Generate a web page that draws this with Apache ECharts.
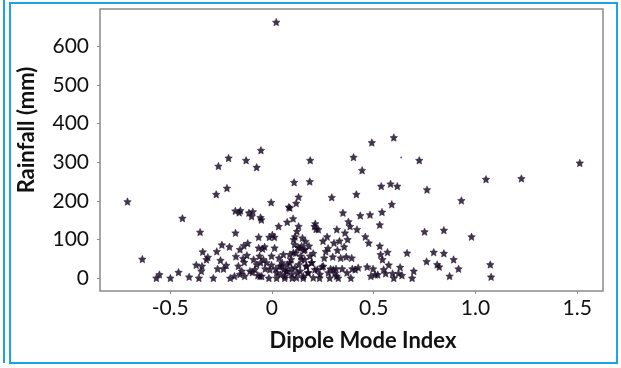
<!DOCTYPE html>
<html><head><meta charset="utf-8">
<script src="https://cdn.jsdelivr.net/npm/echarts@6/dist/echarts.min.js"></script>
<style>html,body{margin:0;padding:0;background:#fff}#c{width:621px;height:368px}</style>
</head><body><div id="c"></div>
<script>
// Dipole Mode Index (x) vs Rainfall mm (y)
const dmi = [0.021,-0.71,-0.637,-0.44,-0.568,-0.553,-0.499,-0.459,-0.407,-0.372,-0.353,-0.359,-0.347,-0.344,-0.34,-0.322,-0.315,-0.288,-0.267,-0.271,-0.274,-0.263,-0.253,-0.246,-0.238,-0.225,-0.213,-0.221,-0.209,-0.205,-0.184,-0.179,-0.177,-0.18,-0.161,-0.155,-0.165,-0.157,-0.148,-0.142,-0.138,-0.136,-0.134,-0.127,-0.123,-0.119,-0.113,-0.1,-0.094,-0.096,-0.09,-0.084,-0.075,-0.069,-0.065,-0.065,-0.061,-0.056,-0.054,-0.052,-0.056,-0.05,-0.046,-0.042,-0.036,-0.033,-0.027,-0.015,-0.013,-0.004,-0.002,0.002,0.012,0.013,0.019,0.023,0.033,0.035,0.038,0.042,0.05,0.058,0.063,0.069,0.075,0.075,0.083,0.088,0.088,0.094,0.096,0.1,0.104,0.109,0.107,0.111,0.113,0.117,0.119,0.123,0.125,0.131,0.131,0.132,0.138,0.142,0.146,0.15,0.154,0.157,0.161,0.165,0.169,0.177,0.182,0.186,0.188,0.196,0.203,0.209,0.213,0.217,0.223,0.228,0.234,0.246,0.251,0.257,0.265,0.271,0.276,0.284,0.288,0.294,0.299,0.305,0.309,0.315,0.319,0.322,0.326,0.332,0.338,0.345,0.349,0.355,0.359,0.365,0.369,0.372,0.376,0.384,0.388,0.392,0.395,0.401,0.409,0.415,0.418,0.424,0.434,0.443,0.459,0.468,0.476,0.482,0.486,0.491,0.497,0.507,0.52,0.53,0.53,0.534,0.537,0.541,0.543,0.549,0.559,0.568,0.574,0.583,0.589,0.593,0.599,0.599,0.616,0.622,0.63,0.639,0.664,0.689,0.697,0.724,0.75,0.76,0.762,0.795,0.812,0.822,0.845,0.845,0.873,0.893,0.917,0.931,0.981,1.052,1.073,1.077,1.226,1.513,
-0.01,0.023,0.048,0.064,0.075,0.088,0.097,0.113,0.121,0.138,0.146,0.154,0.17,0.178,0.195,0.203,0.211,0.236,0.252,0.277,0.301,0.318,-0.059,-0.075,-0.108,-0.157,-0.002,0.056,0.105,0.129,0.162,0.187];
const rainfall = [663,198,49,155,0,9,0,15,3,34,119,0,18,31,68,48,54,0,24,69,217,290,46,86,24,33,311,233,81,0,5,117,56,174,170,175,31,74,18,51,84,41,5,305,59,90,169,160,172,15,48,22,287,7,78,106,57,157,331,151,40,5,76,48,81,24,40,0,106,196,34,112,106,78,24,0,134,52,31,9,40,22,0,18,145,35,184,182,61,48,24,0,154,248,100,87,107,65,194,121,14,210,134,35,78,57,83,104,0,72,48,95,31,14,83,250,305,40,64,134,141,127,22,126,0,29,96,52,69,107,77,0,24,209,55,91,12,24,126,72,0,96,52,24,169,81,117,55,14,100,146,134,0,52,24,313,22,217,126,27,162,279,107,29,91,164,5,351,24,9,9,138,83,61,238,171,48,22,12,67,34,244,191,12,364,0,238,12,28,7,65,0,18,305,120,43,229,67,35,29,124,64,5,48,24,201,107,256,35,3,258,298,
22,14,31,5,18,40,10,27,1,18,48,5,31,14,40,1,22,10,31,14,22,5,5,35,18,10,57,61,66,79,74,57];
// one faint blue point
const blueDmi = [0.635];
const blueRain = [312];
const xTicks = [-0.5, 0, 0.5, 1.0, 1.5];
const xTickLabels = ['-0.5', '0', '0.5', '1.0', '1.5'];
const yTicks = [0, 100, 200, 300, 400, 500, 600];
const xName = 'Dipole Mode Index';
const yName = 'Rainfall (mm)';

const star = 'path://M50,2 L64.11,32.58 L97.55,36.55 L72.83,59.42 L79.39,92.45 L50,76 L20.61,92.45 L27.17,59.42 L2.45,36.55 L35.89,32.58 Z';
const pts = dmi.map((v, i) => [v, rainfall[i]]);
const bpts = blueDmi.map((v, i) => [v, blueRain[i]]);
const FONT = 'Lato';
const chart = echarts.init(document.getElementById('c'), null, {renderer: 'canvas'});
chart.setOption({
  animation: false,
  backgroundColor: '#fff',
  grid: {left: 100, right: 18, top: 9, bottom: 77, show: true, borderColor: '#8a8a8a', borderWidth: 1.5, backgroundColor: '#fff'},
  xAxis: {
    type: 'value', min: -0.845, max: 1.627, splitNumber: 5,
    axisLine: {show: false, onZero: false}, splitLine: {show: false},
    axisTick: {show: true, length: 3, lineStyle: {color: '#8a8a8a'}, customValues: xTicks},
    axisLabel: {customValues: xTicks, margin: 7, color: '#111', fontFamily: FONT, fontSize: 21,
      formatter: v => { const i = xTicks.findIndex(t => Math.abs(t - v) < 1e-9); return i >= 0 ? xTickLabels[i] : ''; }}
  },
  yAxis: {
    type: 'value', min: -33.6, max: 697, splitNumber: 7,
    axisLine: {show: false, onZero: false}, splitLine: {show: false},
    axisTick: {show: true, length: 3, lineStyle: {color: '#8a8a8a'}, customValues: yTicks},
    axisLabel: {customValues: yTicks, margin: 11, color: '#111', fontFamily: FONT, fontSize: 21}
  },
  graphic: [
    {type: 'rect', shape: {x: 10, y: 3, width: 607, height: 360}, style: {fill: 'none', stroke: '#1aa6e6', lineWidth: 2}},
    {type: 'line', shape: {x1: 4, y1: 0, x2: 4, y2: 363}, style: {stroke: '#1aa6e6', lineWidth: 2}},
    {type: 'text', x: 363, y: 341, style: {text: xName, fill: '#111', font: 'bold 22px ' + FONT, align: 'center', verticalAlign: 'middle'}},
    {type: 'text', x: 27, y: 130, rotation: Math.PI / 2, style: {text: yName, fill: '#111', font: 'bold 22px ' + FONT, align: 'center', verticalAlign: 'middle'}}
  ],
  series: [
    {type: 'scatter', data: pts, symbol: star, symbolSize: 7.5, itemStyle: {color: '#100618', borderColor: '#2a1640', borderWidth: 0.6}},
    {type: 'scatter', data: bpts, symbol: 'circle', symbolSize: 2, itemStyle: {color: '#3344dd'}}
  ]
});
</script></body></html>
